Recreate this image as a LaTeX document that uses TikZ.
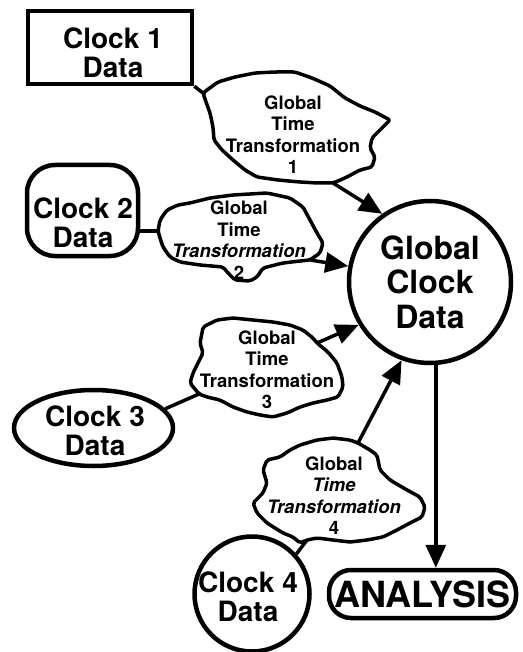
\documentclass[tikz,border=0pt]{standalone}
\usepackage{fontspec}
\setmainfont{TeX Gyre Heros}
\usetikzlibrary{arrows.meta,shapes.geometric}

\begin{document}
\begin{tikzpicture}[x=1pt, y=-1pt,
		clockline/.style={draw, line width=4.5pt, inner sep=0pt},
		clocktext/.style={font=\bfseries\fontsize{28}{29}\selectfont, align=center},
		cloudline/.style={line width=3.5pt, line join=round, rounded corners=2pt},
		cloudtext/.style={font=\bfseries\fontsize{18.5}{21.5}\selectfont, align=center},
		link/.style={line width=3.5pt},
		flow/.style={line width=3.5pt, -{Triangle[length=23pt, width=20pt]}}]
		%%%%% START %%%%%
		
		\useasboundingbox (0, 0) rectangle (522, 652);
		
		% clock data
		\node[clockline, rectangle, minimum width=164pt, minimum height=73pt] (clk1) at (110, 47.5) {};
		\node[clocktext] (clk1txt) at (113, 53) {Clock 1\\Data};
		
		\node[clockline, rectangle, rounded corners=28pt, minimum width=111pt, minimum height=91pt] (clk2) at (82.5, 210.5) {};
		\node[clocktext] (clk2txt) at (83, 223) {Clock 2\\Data};
		
		\node[clockline, ellipse, minimum width=159pt, minimum height=76pt] (clk3) at (93.5, 428) {};
		\node[clocktext] (clk3txt) at (95, 431) {Clock 3\\Data};
		
		\node[clockline, circle, minimum size=115pt] (clk4) at (252, 594) {};
		\node[clocktext] (clk4txt) at (248, 597) {Clock 4\\Data};
		
		\node[clockline, circle, minimum size=162pt, font=\bfseries\fontsize{32}{34.5}\selectfont, align=center] (gcd) at (430, 282) {Global\\Clock\\Data};
		
		\node[clockline, rectangle, rounded corners=22pt, minimum width=187pt, minimum height=48pt, font=\bfseries\fontsize{36}{38}\selectfont] (ana) at (422.5, 594) {ANALYSIS};
		
		% transformation clouds
		\coordinate (t1in) at (203, 93);
		\coordinate (t1out) at (333, 183);
		\draw[cloudline] (t1in) -- (218, 82) -- (235, 77) -- (255, 73) -- (275, 72) -- (295, 72) -- (312, 78) -- (330, 86) -- (345, 98) -- (360, 106) -- (375, 112) -- (390, 120) -- (380, 130) -- (372, 138) -- (370, 148) -- (375, 157) -- (372, 167) -- (360, 170) -- (345, 178) -- (t1out) -- (318, 183) -- (300, 182) -- (278, 180) -- (257, 177) -- (245, 170) -- (233, 160) -- (222, 150) -- (214, 140) -- (213, 127) -- (210, 113) -- (206, 102) -- cycle;
		\node[cloudtext] (gtt1) at (293, 134.5) {Global\\Time\\Transformation\\1};
		
		\coordinate (t2in) at (158, 231);
		\coordinate (t2out) at (310, 260);
		\draw[cloudline] (t2in) -- (160, 220) -- (167, 210) -- (178, 205) -- (190, 203) -- (210, 198) -- (233, 195) -- (250, 194) -- (267, 193) -- (290, 198) -- (303, 207) -- (310, 220) -- (317, 233) -- (323, 243) -- (320, 253) -- (t2out) -- (300, 261) -- (283, 263) -- (263, 268) -- (257, 277) -- (250, 281) -- (235, 280) -- (228, 273) -- (223, 267) -- (200, 265) -- (180, 262) -- (170, 257) -- (163, 247) -- (160, 238) -- cycle;
		\node[cloudtext] (gtt2) at (239, 240) {Global\\Time\\\itshape Transformation\\2};
		
		\coordinate (t3in) at (199, 394);
		\coordinate (t3out) at (317, 343);
		\draw[cloudline] (203, 327) -- (217, 320) -- (233, 318) -- (253, 320) -- (273, 322) -- (290, 325) -- (303, 330) -- (313, 338) -- (t3out) -- (328, 352) -- (337, 363) -- (342, 377) -- (343, 387) -- (338, 397) -- (327, 400) -- (313, 403) -- (300, 407) -- (287, 413) -- (273, 417) -- (260, 415) -- (247, 412) -- (233, 407) -- (220, 400) -- (207, 397) -- (t3in) -- (190, 383) -- (193, 373) -- (198, 363) -- (203, 353) -- (200, 343) -- (202, 333) -- cycle;
		\node[cloudtext] (gtt3) at (267, 369.5) {Global\\Time\\Transformation\\3};
		
		\coordinate (t4in) at (307, 540);
		\coordinate (t4out) at (358, 443);
		\draw[cloudline] (267, 460) -- (280, 457) -- (290, 450) -- (300, 445) -- (317, 440) -- (333, 438) -- (350, 440) -- (t4out) -- (370, 450) -- (377, 455) -- (380, 470) -- (390, 480) -- (407, 490) -- (420, 497) -- (425, 507) -- (422, 517) -- (410, 523) -- (397, 530) -- (383, 537) -- (367, 540) -- (350, 542) -- (333, 540) -- (317, 538) -- (t4in) -- (300, 543) -- (293, 537) -- (283, 533) -- (267, 523) -- (257, 513) -- (253, 503) -- (263, 493) -- (267, 483) -- (263, 470) -- cycle;
		\node[cloudtext] (gtt4) at (334, 495.5) {Global\\\itshape Time\\\itshape Transformation\\4};
		
		% clock data to clouds
		\draw[link] (clk1.south east) -- (t1in);
		\draw[link] (clk2.east |- t2in) -- (t2in);
		\draw[link] (clk3.15) -- (t3in);
		\draw[link] (clk4.42) -- (t4in);
		
		% clouds to global clock data
		\draw[flow] (t1out) -- (gcd.125);
		\draw[flow] (t2out) -- (gcd.169);
		\draw[flow] (t3out) -- (gcd.211);
		\draw[flow] (t4out) -- (gcd.250);
		\draw[flow] (gcd.274) -- (gcd.274 |- ana.north);
		
		%%%%% END %%%%%
\end{tikzpicture}
\end{document}
